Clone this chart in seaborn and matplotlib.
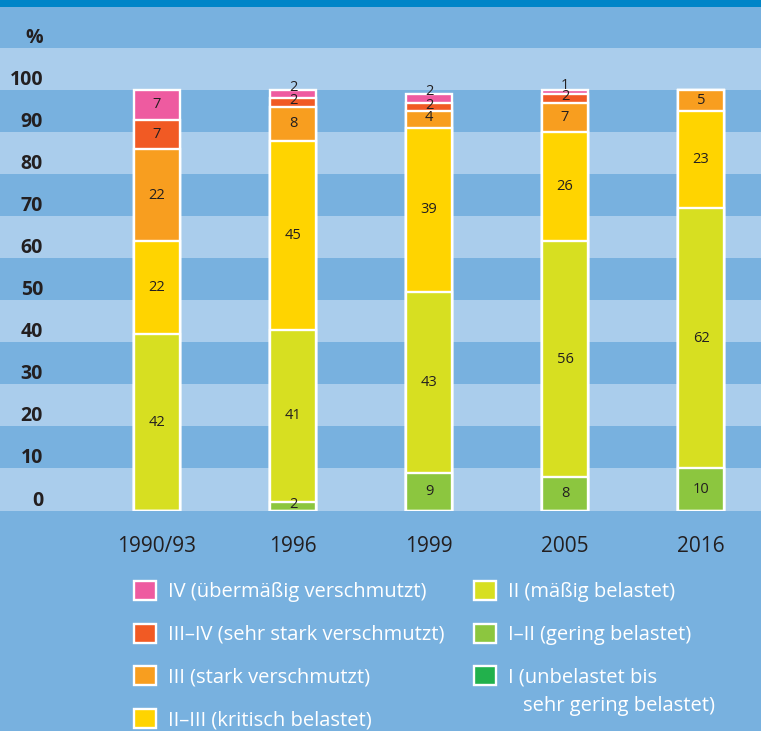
import pandas as pd
import seaborn as sns
import matplotlib.pyplot as plt
from matplotlib.patches import Patch, Rectangle

# values in percent (bottom class first)
years = ["1990/93", "1996", "1999", "2005", "2016"]
cls_I = [0, 0, 0, 0, 0]
cls_I_II = [0, 2, 9, 8, 10]
cls_II = [42, 41, 43, 56, 62]
cls_II_III = [22, 45, 39, 26, 23]
cls_III = [22, 8, 4, 7, 5]
cls_III_IV = [7, 2, 2, 2, 0]
cls_IV = [7, 2, 2, 1, 0]

class_names = ["I (unbelastet bis", "I–II (gering belastet)",
               "II (mäßig belastet)", "II–III (kritisch belastet)", "III (stark verschmutzt)",
               "III–IV (sehr stark verschmutzt)", "IV (übermäßig verschmutzt)"]
class_colors = ["#22B14C", "#8CC63F", "#D7DF21", "#FFD400", "#F89E1F", "#F15A24", "#EE5BA0"]
y_ticks = [0, 10, 20, 30, 40, 50, 60, 70, 80, 90, 100, 110]
y_labels = ["0", "10", "20", "30", "40", "50", "60", "70", "80", "90", "100", "%"]

dark_bg = "#78B1DF"
light_bg = "#AACDEC"
txt = "#231F20"

sns.set_style("white")
plt.rcParams["font.family"] = ["Open Sans", "DejaVu Sans"]

df = pd.DataFrame({"year": years, "I": cls_I, "I_II": cls_I_II, "II": cls_II,
                   "II_III": cls_II_III, "III": cls_III, "III_IV": cls_III_IV, "IV": cls_IV})
keys = ["I", "I_II", "II", "II_III", "III", "III_IV", "IV"]
cum = df[keys].cumsum(axis=1)

fig = plt.figure(figsize=(7.61, 7.31), dpi=100, facecolor=dark_bg)
ax = fig.add_axes([0, 1 - 510.5 / 731, 1, 504.5 / 731])
ax.set_facecolor(dark_bg)

# horizontal bands
for lo in range(0, 120, 10):
    if (lo // 10) % 2 == 0:
        ax.axhspan(lo, lo + 10, color=light_bg, lw=0, zorder=0)

# stacked bars: draw tallest cumulative first, lower ones on top
for k, c in reversed(list(zip(keys, class_colors))):
    sns.barplot(x=df["year"], y=cum[k], color=c, width=0.338, saturation=1,
                edgecolor="white", linewidth=1.7, errorbar=None, order=years,
                ax=ax, zorder=3)

# value labels (thin top segments get nudged upward like in the original)
for i in range(len(years)):
    for k in keys:
        v = df.loc[i, k]
        if v <= 0:
            continue
        mid = cum.loc[i, k] - v / 2
        if k == "IV" and v <= 2:
            mid += 1.7
        elif v <= 4:
            mid += 0.45
        ax.text(i, mid, str(v), ha="center", va="center", fontsize=10.5,
                color=txt, zorder=5)

ax.set_xlim(-157 / 136, 604 / 136)
ax.set_ylim(0, 120)
ax.set_xlabel("")
ax.set_ylabel("")
for s in ax.spines.values():
    s.set_visible(False)

ax.set_yticks(y_ticks)
ax.set_yticklabels(y_labels, fontsize=14, fontweight="bold", color=txt)
ax.tick_params(axis="y", length=0, pad=-31)
for lab in ax.get_yticklabels():
    lab.set_va("bottom")
ax.tick_params(axis="x", length=0, pad=18, labelsize=15, labelcolor=txt)

# top strip
fig.patches.append(Rectangle((0, 1 - 7 / 731), 1, 7 / 731, transform=fig.transFigure,
                             facecolor="#0085C8", edgecolor="none", zorder=10))

handles = [Patch(facecolor=c, edgecolor="white", linewidth=1.7, label=n)
           for n, c in zip(class_names, class_colors)]
handles = handles[::-1]
leg_kw = dict(frameon=False, loc="upper left", fontsize=14.5, labelcolor="white",
              handlelength=1.08, handleheight=1.08, handletextpad=0.6,
              labelspacing=1.05, borderpad=0, borderaxespad=0)
fig.legend(handles=handles[:4], bbox_to_anchor=(134 / 761, 1 - 581 / 731), **leg_kw)
fig.legend(handles=handles[4:], bbox_to_anchor=(474 / 761, 1 - 581 / 731), **leg_kw)
fig.text(523 / 761, 1 - 706 / 731, "sehr gering belastet)", color="white",
         fontsize=14.5, ha="left", va="center")

fig.savefig("out.png", dpi=100, facecolor=dark_bg)
